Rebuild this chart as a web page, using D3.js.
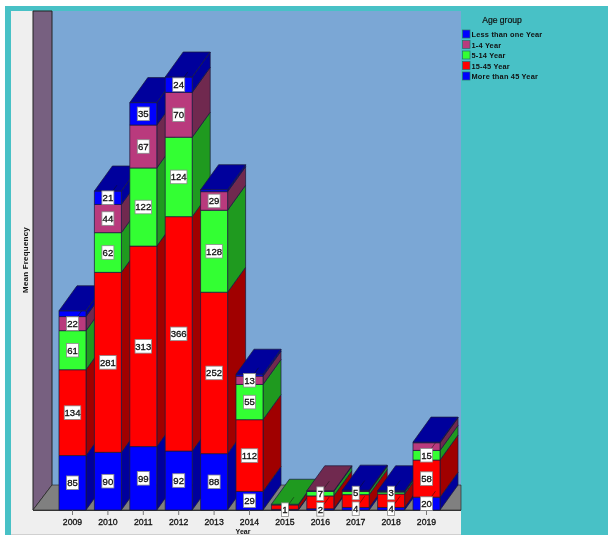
<!DOCTYPE html>
<html><head><meta charset="utf-8">
<script src="https://cdn.jsdelivr.net/npm/d3@7"></script>
<style>html,body{margin:0;padding:0;background:#fff}svg{display:block;filter:blur(.35px)}text{font-family:"Liberation Sans",Arial,sans-serif}</style>
</head><body><svg id="c" width="608" height="535"></svg>
<script>
const years = ["2009","2010","2011","2012","2013","2014","2015","2016","2017","2018","2019"];
const groups = ["More than 45 Year","15-45 Year","5-14 Year","1-4 Year","Less than one Year"];
const legendOrder = ["Less than one Year","1-4 Year","5-14 Year","15-45 Year","More than 45 Year"];
const more45 = [85,90,99,92,88,29,1,2,4,4,20];
const age15to45 = [134,281,313,366,252,112,7,20,20,21,58];
const age5to14 = [61,62,122,124,128,55,1,7,5,3,15];
const age1to4 = [22,44,67,70,29,13,0,1,1,1,12];
const lessThanOne = [9,21,35,24,3,3,0,0,1,1,1];
const series = [more45,age15to45,age5to14,age1to4,lessThanOne];
const labelled1 = [85,90,99,92,88,29,1,2,4,4,20];
const labelled2 = [134,281,313,366,252,112,null,null,null,null,58];
const labelled3 = [61,62,122,124,128,55,null,7,5,3,15];
const labelled4 = [22,44,67,70,29,13,null,null,null,null,null];
const labelled5 = [null,21,35,24,null,null,null,null,null,null,null];
const labels = [labelled1,labelled2,labelled3,labelled4,labelled5];
const frontColors = ["#0000ff","#ff0000","#33ff33","#b93a7d","#0000ff"];
const sideColors = ["#00009c","#a00000","#1f9a1f","#70294f","#00009c"];
const topColors = ["#00009c","#a00000","#1f9a1f","#70294f","#00009c"];
const legendColors = ["#0000ff","#b93a7d","#33ff33","#ff0000","#0000ff"];

const svg = d3.select("#c");
const dx = 18, dy = 25, y0 = 510;
const x = d3.scaleBand().domain(years).range([50.6,448.4]).paddingInner(.237).paddingOuter(.237);
const y = d3.scaleLinear().domain([0,676]).range([y0,77]);
const poly = (pts,f,s="#1a1a3c",w=.8,o=.9) => svg.append("polygon").attr("points",pts.map(p=>p.join(",")).join(" "))
  .attr("fill",f).attr("stroke",s).attr("stroke-width",w).attr("stroke-opacity",o);

// frame
svg.append("rect").attr("x",5).attr("y",6).attr("width",603).attr("height",529).attr("fill","#48c1c6");
svg.append("rect").attr("x",11).attr("y",11).attr("width",450).attr("height",524).attr("fill","#efefef");
svg.append("rect").attr("x",11).attr("y",534).attr("width",450).attr("height",1).attr("fill","#d0d0d0");
svg.append("rect").attr("x",52).attr("y",11).attr("width",409).attr("height",475).attr("fill","#7ba7d5");
poly([[33,11],[52,11],[52,485],[33,510]],"#776080","#222",1,1);
poly([[33,510],[52,485],[461,485],[461,510]],"#808080","#222",.8,.8);
svg.append("line").attr("x1",33).attr("x2",461).attr("y1",y0+.5).attr("y2",y0+.5).attr("stroke","#333").attr("stroke-width",1);

// axis
const axis = svg.append("g").attr("transform",`translate(0,${y0})`).call(d3.axisBottom(x).tickSize(5).tickPadding(3.5));
axis.select(".domain").remove();
axis.selectAll("line").attr("stroke","#777");
axis.selectAll("text").attr("font-size",8.7).attr("font-weight",400).attr("fill","#111").attr("stroke","#111").attr("stroke-width",.3);

// bars, left to right so that nearer fronts cover the neighbour's side
const labelItems = [];
years.forEach((yr,i) => {
  const l = x(yr), r = l + x.bandwidth();
  let cum = 0, topIdx = 0;
  series.forEach((s,k) => {
    if (!s[i]) return;
    const a = y(cum), b = y(cum + s[i]);
    cum += s[i]; topIdx = k;
    poly([[r,a],[r+dx,a-dy],[r+dx,b-dy],[r,b]],sideColors[k]);
    poly([[l,a],[r,a],[r,b],[l,b]],frontColors[k]);
    if (labels[k][i] != null) labelItems.push({t:labels[k][i],cx:(l+r)/2,cy:(a+b)/2,h:a-b});
  });
  const t = y(cum);
  poly([[l,t],[r,t],[r+dx,t-dy],[l+dx,t-dy]],topColors[topIdx]);
});

// value labels
labelItems.forEach(d => {
  if (d.h < 16) svg.append("line").attr("x1",d.cx).attr("y1",d.cy).attr("x2",d.cx+9).attr("y2",d.cy-12.5)
    .attr("stroke","#111").attr("stroke-width",.7).attr("stroke-opacity",.7);
});
labelItems.forEach(d => {
  const w = String(d.t).length === 3 ? 16.5 : String(d.t).length === 2 ? 12 : 7;
  svg.append("rect").attr("x",d.cx-w/2).attr("y",d.cy-6.8).attr("width",w).attr("height",13.6)
    .attr("fill","#fff").attr("stroke","#8a8a8a").attr("stroke-width",.8);
  svg.append("text").attr("x",d.cx).attr("y",d.cy+3.4).attr("text-anchor","middle").attr("font-size",9.6)
    .attr("fill","#111").attr("stroke","#111").attr("stroke-width",.3).text(d.t);
});

// axis titles
svg.append("text").attr("transform","translate(27.5,260) rotate(-90)").attr("text-anchor","middle")
  .attr("font-size",8).attr("font-weight",700).attr("letter-spacing",.2).attr("fill","#111").text("Mean Frequency");
svg.append("text").attr("x",243).attr("y",533.5).attr("text-anchor","middle").attr("font-size",7).attr("font-weight",700).attr("fill","#111").text("Year");

// legend
svg.append("text").attr("x",502).attr("y",23).attr("text-anchor","middle").attr("font-size",8.6)
  .attr("fill","#111").attr("stroke","#111").attr("stroke-width",.2).text("Age group");
const ly = d3.scalePoint().domain(legendOrder).range([34,76]);
legendOrder.forEach((g,i) => {
  svg.append("rect").attr("x",462.5).attr("y",ly(g)-4).attr("width",7.5).attr("height",8)
    .attr("fill",legendColors[i]).attr("stroke","#2a6a6a").attr("stroke-width",.7);
  svg.append("text").attr("x",471.5).attr("y",ly(g)+3).attr("font-size",7.4).attr("font-weight",700)
    .attr("letter-spacing",.2).attr("fill","#111").text(g);
});
</script></body></html>
